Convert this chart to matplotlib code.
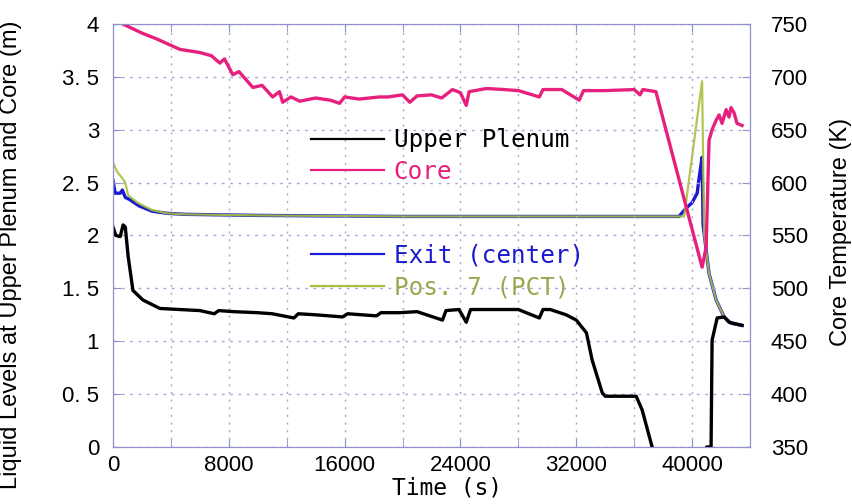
import matplotlib
matplotlib.use("Agg")
import matplotlib.pyplot as plt
from matplotlib.lines import Line2D
from matplotlib.ticker import MultipleLocator, FuncFormatter

# ---- data ----
# liquid levels (m), left axis
t_plenum = [0, 200, 500, 700, 850, 1050, 1380, 2070, 3240, 4600, 6000, 7000, 7300,
            8300, 10000, 11000, 12500, 12800, 14000, 15860, 16200, 18200, 18500, 19800,
            21000, 22760, 23000, 23900, 24400, 24700, 26000, 28000, 29450, 29700, 30200,
            31300, 32000, 32700, 33100, 33800, 34000, 36140, 36550, 37240, 37600, 40800,
            41000, 41310, 41380, 41730, 42210, 42550, 43450]
plenum = [2.08, 2.0, 1.99, 2.1, 2.08, 1.8, 1.48, 1.39, 1.31, 1.30, 1.29, 1.26, 1.29,
          1.28, 1.27, 1.26, 1.22, 1.26, 1.25, 1.23, 1.26, 1.24, 1.27, 1.27,
          1.28, 1.20, 1.29, 1.30, 1.18, 1.30, 1.30, 1.30, 1.22, 1.30, 1.30,
          1.25, 1.20, 1.08, 0.82, 0.51, 0.48, 0.48, 0.35, 0.0, -0.3, -0.3,
          0.0, 0.0, 1.01, 1.22, 1.23, 1.18, 1.15]

t_core = [400, 830, 2070, 3000, 4620, 6000, 6800, 7380, 7700, 8280, 8700, 9660, 10300,
          11030, 11500, 11720, 12300, 12900, 14000, 15000, 15650, 16000, 17000, 18400,
          19000, 20000, 20500, 21000, 22000, 22700, 23450, 24000, 24400, 24600, 25800,
          27000, 28000, 29450, 29700, 31000, 32200, 32500, 34000, 36000, 36400, 36600,
          37500, 40690, 40970, 41170, 41380, 41660, 41860, 42070, 42350, 42550, 42690,
          42900, 43100, 43450]
core = [4.02, 3.99, 3.91, 3.86, 3.76, 3.73, 3.70, 3.63, 3.67, 3.52, 3.55, 3.40, 3.42,
        3.31, 3.36, 3.26, 3.31, 3.27, 3.30, 3.28, 3.25, 3.31, 3.29, 3.31,
        3.31, 3.33, 3.26, 3.32, 3.33, 3.30, 3.38, 3.35, 3.23, 3.36, 3.39,
        3.38, 3.37, 3.31, 3.38, 3.38, 3.28, 3.37, 3.37, 3.38, 3.33, 3.38,
        3.36, 1.70, 1.89, 2.90, 3.00, 3.09, 3.14, 3.06, 3.19, 3.12, 3.21,
        3.16, 3.06, 3.04]

# core temperatures (K), right axis
t_exit = [0, 150, 500, 650, 850, 1150, 1800, 2700, 3700, 5000, 10000, 20000, 30000,
          39100, 39590, 40000, 40350, 40490, 40690, 40760, 40830, 41170, 41660, 42210,
          42690, 43450]
exit_c = [602, 590, 590, 593, 586, 584, 578, 573, 571, 570, 569, 568, 568,
          568, 576, 581, 590, 605, 624, 560, 552, 514, 489, 473, 467, 465]

t_pos7 = [0, 300, 600, 850, 1050, 1700, 2700, 3700, 5000, 10000, 20000, 30000,
          39450, 40690, 40830, 41170, 41660, 42210, 42690, 43450]
pos7 = [619, 610, 605, 600, 588, 581, 574, 571, 570, 569, 568, 568,
        568, 696, 552, 514, 489, 473, 467, 465]

labels_lvl = ["Upper Plenum", "Core"]
labels_tmp = ["Exit (center)", "Pos. 7 (PCT)"]

# ---- styling ----
c_black = "black"
c_core = "#e8207d"
c_exit = "#1a1ad0"
c_pos7 = "#a8c040"
c_frame = "#9090cc"
c_grid = "#a8a8d8"

fig = plt.figure(figsize=(8.52, 5.04), dpi=100)
ax = fig.add_axes([0.1326, 0.1131, 0.7477, 0.8393])
ax2 = ax.twinx()

ax2.plot(t_exit, exit_c, color=c_exit, lw=2.4)
ax2.plot(t_pos7, pos7, color=c_pos7, lw=1.6, alpha=0.9)
ax.plot(t_plenum, plenum, color=c_black, lw=2.4)
ax.plot(t_core, core, color=c_core, lw=2.4)
ax.set_zorder(ax2.get_zorder() + 1)
ax.patch.set_visible(False)

ax.set_xlim(0, 44000)
ax.set_ylim(0, 4)
ax2.set_ylim(350, 750)

ax.xaxis.set_major_locator(MultipleLocator(8000))
ax.xaxis.set_minor_locator(MultipleLocator(4000))
ax.yaxis.set_major_locator(MultipleLocator(0.5))
ax2.yaxis.set_major_locator(MultipleLocator(50))
ax.yaxis.set_major_formatter(FuncFormatter(lambda v, p: f"{v:g}".replace(".", ". ")))

tick_font = "Liberation Sans"
for a in (ax, ax2):
    for s in a.spines.values():
        s.set_color(c_frame)
    a.tick_params(which="both", direction="in", color=c_frame, labelsize=16,
                  top=True, length=6)
    for lab in a.get_xticklabels() + a.get_yticklabels():
        lab.set_fontfamily(tick_font)
ax.tick_params(axis="y", pad=10)
ax.tick_params(axis="x", pad=6)
ax2.tick_params(axis="y", pad=15)

ax.grid(True, which="both", axis="x", color=c_grid, linestyle=(0, (1.5, 4)), lw=1)
ax.grid(True, which="major", axis="y", color=c_grid, linestyle=(0, (2, 4)), lw=1)

narrow = ["Liberation Sans Narrow", "Liberation Sans", "DejaVu Sans"]
ax.set_ylabel("Liquid Levels at Upper Plenum and Core (m)", fontsize=17, family=narrow)
ax2.set_ylabel("Core Temperature (K)", fontsize=17, family=narrow)
ax.set_xlabel("Time (s)", fontsize=16.5, family="DejaVu Sans Mono")
ax.yaxis.set_label_coords(-0.143, 0.454)
ax2.yaxis.set_label_coords(1.125, 0.508)
ax.xaxis.set_label_coords(0.524, -0.07)

h1 = [Line2D([], [], color=c_black, lw=1.6), Line2D([], [], color=c_core, lw=1.6)]
h2 = [Line2D([], [], color=c_exit, lw=1.6), Line2D([], [], color=c_pos7, lw=1.6)]
leg_kw = dict(frameon=False, loc="upper left", borderaxespad=0, borderpad=0,
              handlelength=3.0, handletextpad=0.4, labelspacing=0.3,
              prop={"family": "DejaVu Sans Mono", "size": 17.5})
leg1 = ax.legend(h1, labels_lvl, bbox_to_anchor=(0.311, 0.753), labelcolor=[c_black, c_core], **leg_kw)
ax.add_artist(leg1)
ax.legend(h2, labels_tmp, bbox_to_anchor=(0.311, 0.48), labelcolor=[c_exit, "#98a850"], **leg_kw)

fig.savefig("out.png", dpi=100)
